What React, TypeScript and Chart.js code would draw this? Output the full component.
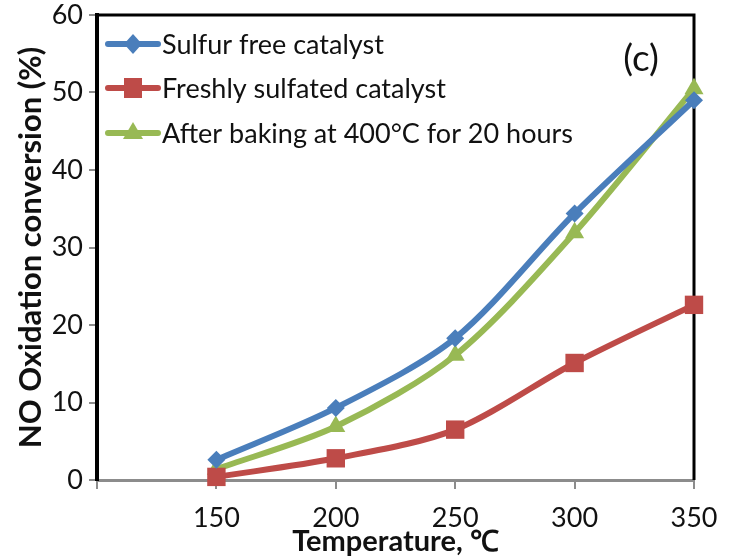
import React, { useEffect, useRef } from "react";
import { Chart, registerables } from "chart.js";

Chart.register(...registerables);

// Reaction temperature (°C) and NO oxidation conversion (%) for each catalyst state
const temperatures = [150, 200, 250, 300, 350];
const sulfurFree = [2.6, 9.3, 18.3, 34.4, 49.0];
const freshlySulfated = [0.4, 2.8, 6.5, 15.1, 22.6];
const afterBaking = [1.4, 6.9, 16.1, 31.9, 50.5];

const seriesNames = [
  "Sulfur free catalyst",
  "Freshly sulfated catalyst",
  "After baking at 400°C for 20 hours",
];

const BLUE = "#4a7ebb";
const RED = "#be4b48";
const GREEN = "#98b954";
const TEXT = "#111111";
const FONT = "Lato, 'Open Sans', sans-serif";

const toPoints = (ys: number[]) => temperatures.map((t, i) => ({ x: t, y: ys[i] }));

// Black frame on the top and right sides of the plot area
const framePlugin = {
  id: "frame",
  beforeDatasetsDraw(chart: any) {
    const { ctx, chartArea } = chart;
    ctx.save();
    ctx.strokeStyle = "#000";
    ctx.lineWidth = 3;
    ctx.beginPath();
    ctx.moveTo(chartArea.left, chartArea.top);
    ctx.lineTo(chartArea.right, chartArea.top);
    ctx.lineTo(chartArea.right, chartArea.bottom);
    ctx.stroke();
    ctx.restore();
  },
};

// Legend inside the plot area plus the "(c)" panel label
const legendPlugin = {
  id: "insideLegend",
  afterDraw(chart: any) {
    const { ctx, chartArea } = chart;
    ctx.save();
    const x0 = chartArea.left + 11;
    const rows = [29, 73, 118];
    chart.data.datasets.forEach((ds: any, i: number) => {
      const y = chartArea.top + rows[i];
      ctx.strokeStyle = ds.borderColor;
      ctx.lineWidth = 6;
      ctx.lineCap = "round";
      ctx.beginPath();
      ctx.moveTo(x0, y);
      ctx.lineTo(x0 + 50, y);
      ctx.stroke();
      ctx.fillStyle = ds.borderColor;
      ctx.beginPath();
      const cx = x0 + 25;
      if (ds.pointStyle === "rectRot") {
        ctx.moveTo(cx, y - 10);
        ctx.lineTo(cx + 9, y);
        ctx.lineTo(cx, y + 10);
        ctx.lineTo(cx - 9, y);
      } else if (ds.pointStyle === "rect") {
        ctx.rect(cx - 9, y - 10, 18, 20);
      } else {
        ctx.moveTo(cx, y - 11);
        ctx.lineTo(cx + 10, y + 6);
        ctx.lineTo(cx - 10, y + 6);
      }
      ctx.closePath();
      ctx.fill();
      ctx.fillStyle = TEXT;
      ctx.font = `27px ${FONT}`;
      ctx.textBaseline = "middle";
      ctx.textAlign = "left";
      ctx.fillText(seriesNames[i], x0 + 54, y + 1);
    });
    ctx.font = `37px ${FONT}`;
    ctx.textAlign = "center";
    ctx.textBaseline = "middle";
    ctx.fillStyle = TEXT;
    ctx.fillText("(c)", chartArea.right - 53, chartArea.top + 44);
    ctx.restore();
  },
};

export default function App() {
  const canvasRef = useRef<HTMLCanvasElement | null>(null);

  useEffect(() => {
    document.body.style.margin = "0";
    const canvas = canvasRef.current;
    if (!canvas) return;

    const common = {
      fill: false,
      borderWidth: 6,
      tension: 0.3,
      clip: false as any,
    };

    const chart = new Chart(canvas, {
      type: "line",
      data: {
        datasets: [
          {
            ...common,
            label: seriesNames[0],
            data: toPoints(sulfurFree),
            borderColor: BLUE,
            backgroundColor: BLUE,
            pointStyle: "rectRot",
            pointRadius: 9,
            pointBorderWidth: 0,
          },
          {
            ...common,
            label: seriesNames[1],
            data: toPoints(freshlySulfated),
            borderColor: RED,
            backgroundColor: RED,
            pointStyle: "rect",
            pointRadius: 13,
            pointBorderWidth: 0,
          },
          {
            ...common,
            label: seriesNames[2],
            data: toPoints(afterBaking),
            borderColor: GREEN,
            backgroundColor: GREEN,
            pointStyle: "triangle",
            pointRadius: 11,
            pointBorderWidth: 0,
          },
        ],
      },
      options: {
        animation: false,
        responsive: false,
        maintainAspectRatio: false,
        layout: { padding: { top: 15, right: 35, left: 0, bottom: 0 } },
        plugins: {
          legend: { display: false },
          tooltip: { enabled: false },
        },
        scales: {
          x: {
            type: "linear",
            min: 100,
            max: 350,
            ticks: {
              stepSize: 50,
              color: TEXT,
              font: { family: FONT, size: 27 },
              padding: 13,
              maxRotation: 0,
              callback: (v: any) => (v === 100 ? "" : String(v)),
            },
            grid: {
              drawOnChartArea: false,
              drawTicks: true,
              tickLength: 9,
              color: "#8c8c8c",
              lineWidth: 2,
            },
            border: { color: "#8c8c8c", width: 3 },
            title: {
              display: true,
              text: "Temperature, ℃",
              color: TEXT,
              font: { family: FONT, size: 29, weight: "bold" },
              padding: { top: 0, bottom: 0 },
            },
            afterFit: (scale: any) => {
              scale.height = 79;
              scale.paddingLeft = 0;
              scale.paddingRight = 0;
            },
          },
          y: {
            min: 0,
            max: 60,
            ticks: {
              stepSize: 10,
              color: TEXT,
              font: { family: FONT, size: 27 },
              padding: 6,
            },
            grid: {
              drawOnChartArea: false,
              drawTicks: true,
              tickLength: 8,
              color: "#8c8c8c",
              lineWidth: 2,
            },
            border: { color: "#000", width: 4 },
            title: {
              display: true,
              text: "NO Oxidation conversion (%)",
              color: TEXT,
              font: { family: FONT, size: 31, weight: "bold" },
              padding: { top: 12, bottom: 0 },
            },
            afterFit: (scale: any) => {
              scale.width = 97;
              scale.paddingTop = 0;
              scale.paddingBottom = 0;
            },
          },
        },
      },
      plugins: [framePlugin, legendPlugin],
    });

    return () => chart.destroy();
  }, []);

  return (
    <div style={{ width: 729, height: 559, background: "#fff" }}>
      <canvas ref={canvasRef} width={729} height={559} />
    </div>
  );
}
